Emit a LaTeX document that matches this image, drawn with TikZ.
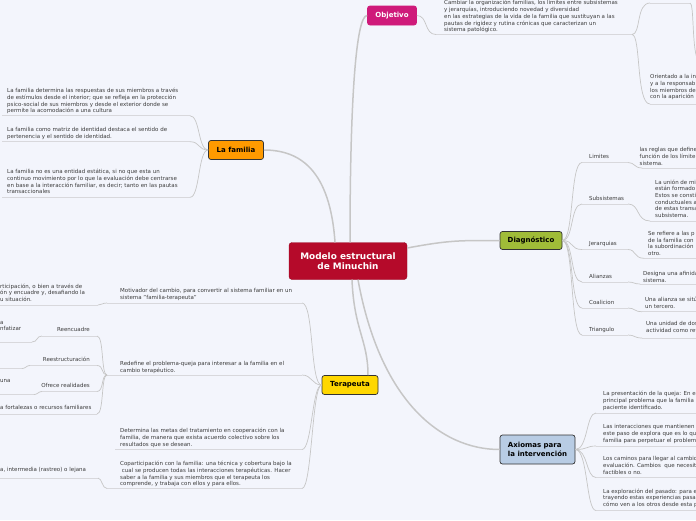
\documentclass[tikz,border=0pt]{standalone}
\usepackage{fontspec}
\setmainfont{DejaVu Sans}
\usetikzlibrary{positioning}

\definecolor{bgcol}{HTML}{F3F5FC}
\definecolor{rootred}{HTML}{B50A2A}
\definecolor{objcol}{HTML}{CF1A7A}
\definecolor{famcol}{HTML}{FF9A00}
\definecolor{diagcol}{HTML}{A0BC38}
\definecolor{tercol}{HTML}{FFD700}
\definecolor{axcol}{HTML}{B8CCE4}
\definecolor{linegray}{HTML}{C6C6C6}
\definecolor{ulgray}{HTML}{D8D8DC}
\definecolor{txtgray}{HTML}{3C3C3C}

\newcommand\txtfont{\fontsize{5.5}{6.7}\selectfont}
\newcommand\topicfont{\fontsize{7}{8.3}\selectfont\bfseries}

\tikzset{
  root/.style={fill=rootred, draw=rootred!85!black, rounded corners=3pt, text=white,
    font=\fontsize{8.9}{10}\selectfont\bfseries, align=center, inner sep=0pt,
    minimum width=118pt, minimum height=37pt},
  topic/.style={rounded corners=2.5pt, draw=black!80, line width=0.7pt, font=\topicfont,
    inner sep=0pt, align=center, text=black},
  txt/.style={anchor=north west, inner sep=0pt, align=left, font=\txtfont, text=txtgray},
  branch/.style={draw=linegray, line width=1.5pt},
  twig/.style={draw=linegray, line width=0.7pt},
  uline/.style={draw=ulgray, line width=0.8pt}
}

\begin{document}
\begin{tikzpicture}[x=1pt,y=-1pt]
\useasboundingbox (0,0) rectangle (696,520);
\fill[bgcol] (0,0) rectangle (696,520);
\begin{scope}
\clip (0,0) rectangle (696,520);

% main topics
\node[root] (model) at (348,261) {Modelo estructural\\de Minuchin};
\node[topic, fill=objcol, draw=objcol, text=white, minimum width=49pt, minimum height=19pt] (obj) at (392,15.5) {Objetivo};
\node[topic, fill=famcol, minimum width=55pt, minimum height=19pt] (fam) at (236,150) {La familia};
\node[topic, fill=diagcol, minimum width=62pt, minimum height=18pt] (diag) at (531,240.5) {Diagnóstico};
\node[topic, fill=tercol, minimum width=56pt, minimum height=19pt] (ter) at (350,385) {Terapeuta};
\node[topic, fill=axcol, align=left, minimum width=75pt, minimum height=29pt] (ax) at (537.5,449.5) {Axiomas para\\la intervención};

\draw[branch] ([xshift=2pt]model.north) .. controls (350,100) and (356,15.5) .. (obj.west);
\draw[branch] ([xshift=-13pt]model.north) .. controls (330,170) and (300,150) .. (fam.east);
\draw[branch] ([yshift=13pt]model.east) .. controls (450,240) and (460,240.5) .. (diag.west);
\draw[branch] ([xshift=4pt]model.south) .. controls (354,330) and (368,340) .. ([xshift=18pt]ter.north);
\draw[branch] ([xshift=10pt]model.south) .. controls (380,400) and (440,449.5) .. (ax.west);

% Objetivo
\node[txt] (obj1) at (444,0.3) {Cambiar la organización familias, los límites entre subsistemas\\y jerarquías, introduciendo novedad y diversidad\\en las estrategias de la vida de la familia que sustituyan a las\\pautas de rigidez y rutina crónicas que caracterizan un\\sistema patológico.};
\draw[uline] (436,34.5) coordinate (o1a) -- (632,34.5) coordinate (o1b);
\draw[twig] (obj.east) .. controls (428,15.5) and (424,34.5) .. (o1a);
\draw[uline] (650,3) coordinate (o2a) -- (690,3) coordinate (o2b);
\draw[twig] (o1b) .. controls (641,34.5) and (636,3) .. (o2a);
\draw[twig] (o2b) .. controls (694,3) and (692,45) .. (697,58);
\node[txt] (obj3) at (650,74.5) {Orientado a la in\\y a la responsab\\los miembros de\\con la aparición};
\draw[uline] (650,104) coordinate (o3a) -- (697,104);
\draw[twig] (o1b) .. controls (641,34.5) and (636,104) .. (o3a);

% La familia
\node[txt] (fam1) at (7,88) {La familia determina las respuestas de sus miembros a través\\de estímulos desde el interior; que se refleja en la protección\\psico-social de sus miembros y desde el exterior donde se\\permite la acomodación a una cultura};
\draw[uline] (2,115.7) -- (190,115.7) coordinate (f1b);
\draw[twig] (fam.west) .. controls (198,150) and (200,115.7) .. (f1b);
\node[txt] (fam2) at (7,127.5) {La familia como matriz de identidad destaca el sentido de\\pertenencia y el sentido de identidad.};
\draw[uline] (2,141.7) -- (190,141.7) coordinate (f2b);
\draw[twig] (fam.west) .. controls (198,150) and (200,141.7) .. (f2b);
\node[txt] (fam3) at (7,169) {La familia no es una entidad estática, si no que esta un\\continuo movimiento por lo que la evaluación debe centrarse\\en base a la interacción familiar, es decir; tanto en las pautas\\transaccionales};
\draw[uline] (2,197.3) -- (190,197.3) coordinate (f3b);
\draw[twig] (fam.west) .. controls (198,150) and (200,197.3) .. (f3b);

% Diagnostico
\foreach \i/\lab/\yu in {1/Limites/162.5, 2/Subsistemas/204, 3/Jerarquias/249.5,
                         4/Alianzas/282, 5/Coalicion/308, 6/Triangulo/335}{
  \node[txt] (dg\i) at (589,\yu-8) {\lab};
  \draw[uline] (582,\yu) coordinate (dg\i a) -- (628,\yu) coordinate (dg\i b);
  \draw[twig] (diag.east) .. controls (574,240.5) and (570,\yu) .. (dg\i a);
}
\node[txt] (dgd1) at (639.5,147.5) {las reglas que define\\función de los límite\\sistema.};
\draw[uline] (642,168) coordinate (dgd1a) -- (697,168);
\draw[twig] (dg1b) .. controls (635,162.5) and (634,168) .. (dgd1a);
\node[txt] (dgd2) at (655,179.5) {La unión de mi\\están formado\\Estos se consti\\conductuales a\\de estas transa\\subsistema.};
\draw[uline] (650,221) coordinate (dgd2a) -- (697,221);
\draw[twig] (dg2b) .. controls (640,204) and (636,221) .. (dgd2a);
\node[txt] (dgd3) at (648,231) {Se refiere a las p\\de la familia con\\la subordinación\\otro.};
\draw[uline] (644,258.3) coordinate (dgd3a) -- (697,258.3);
\draw[twig] (dg3b) .. controls (636,249.5) and (634,258.3) .. (dgd3a);
\node[txt] (dgd4) at (643,271) {Designa una afinida\\sistema.};
\draw[uline] (640,284) coordinate (dgd4a) -- (697,284);
\draw[twig] (dg4b) .. controls (634,282) and (634,284) .. (dgd4a);
\node[txt] (dgd5) at (645,297) {Una alianza se sitú\\un tercero.};
\draw[uline] (642,311.7) coordinate (dgd5a) -- (697,311.7);
\draw[twig] (dg5b) .. controls (635,308) and (634,311.7) .. (dgd5a);
\node[txt] (dgd6) at (646,321) {Una unidad de dos\\actividad como ref};
\draw[uline] (642,338) coordinate (dgd6a) -- (697,338);
\draw[twig] (dg6b) .. controls (635,335) and (634,338) .. (dgd6a);

% Terapeuta
\node[txt] (ter1) at (120,288) {Motivador del cambio, para convertir al sistema familiar en un\\sistema "familia-terapeuta"};
\draw[uline] (107,303) coordinate (t1a) -- (302,303) coordinate (t1b);
\draw[twig] (ter.west) .. controls (310,385) and (314,303) .. (t1b);
\node[txt] (ter1x) at (0,283.5) {rticipación, o bien a través de\\ón y encuadre y, desafiando la\\u situación.};
\draw[uline] (0,305) -- (98,305) coordinate (t1xb);
\draw[twig] (t1a) .. controls (102,303) and (102,305) .. (t1xb);

\node[txt] (ter2) at (120,361) {Redefine el problema-queja para interesar a la familia en el\\cambio terapéutico.};
\draw[uline] (107,375) coordinate (t2a) -- (302,375) coordinate (t2b);
\draw[twig] (ter.west) .. controls (312,385) and (312,375) .. (t2b);
\node[txt, anchor=north east] (reen) at (90,327.5) {Reencuadre};
\draw[uline] (42,336) coordinate (ra) -- (97,336) coordinate (rb);
\draw[twig] (t2a) .. controls (101,375) and (104,336) .. (rb);
\node[txt] (reenx) at (0,321) {a\\nfatizar};
\draw[uline] (0,342) -- (32,342) coordinate (rxb);
\draw[twig] (rxb) .. controls (38,342) and (36,336) .. (ra);
\node[txt, anchor=north east] (rees) at (90,357) {Reestructuración};
\draw[uline] (30,365.5) coordinate (sa) -- (97,365.5) coordinate (sb);
\draw[twig] (t2a) .. controls (101,375) and (104,365.5) .. (sb);
\draw[uline] (0,368.5) -- (22,368.5) coordinate (sxb);
\draw[twig] (sxb) .. controls (26,368.5) and (26,365.5) .. (sa);
\node[txt, anchor=north east] (ofre) at (90,383.5) {Ofrece realidades};
\draw[uline] (42,391.5) coordinate (oa) -- (97,391.5) coordinate (ob);
\draw[twig] (t2a) .. controls (101,375) and (104,391.5) .. (ob);
\node[txt] (ofrex) at (0,379.5) {una};
\draw[uline] (0,394.5) -- (34,394.5) coordinate (oxb);
\draw[twig] (oxb) .. controls (38,394.5) and (38,391.5) .. (oa);
\node[txt] (fort) at (0,405.5) {a fortalezas o recursos familiares};
\draw[uline] (0,414) -- (97,414) coordinate (fb);
\draw[twig] (t2a) .. controls (101,375) and (104,414) .. (fb);

\node[txt] (ter3) at (120,428) {Determina las metas del tratamiento en cooperación con la\\familia, de manera que exista acuerdo colectivo sobre los\\resultados que se desean.};
\draw[uline] (115,449.5) -- (302,449.5) coordinate (t3b);
\draw[twig] (ter.west) .. controls (312,385) and (312,449.5) .. (t3b);

\node[txt] (ter4) at (120,461) {Coparticipación con la familia: una técnica y cobertura bajo la\\\ cual se producen todas las interacciones terapéuticas. Hacer\\saber a la familia y sus miembros que el terapeuta los\\comprende, y trabaja con ellos y para ellos.};
\draw[uline] (107,488.5) coordinate (t4a) -- (302,488.5) coordinate (t4b);
\draw[twig] (ter.west) .. controls (312,385) and (312,488.5) .. (t4b);
\node[txt] (ter4x) at (0,467.5) {a, intermedia (rastreo) o lejana};
\draw[uline] (0,478) -- (98,478) coordinate (t4xb);
\draw[twig] (t4a) .. controls (102,488.5) and (102,478) .. (t4xb);

% Axiomas
\node[txt] (ax1) at (603,391) {La presentación de la queja: En e\\principal problema que la familia\\paciente identificado.};
\draw[uline] (596,413) coordinate (a1a) -- (697,413);
\draw[twig] (ax.east) .. controls (588,449.5) and (586,413) .. (a1a);
\node[txt] (ax2) at (603,424.5) {Las interacciones que mantienen\\este paso de explora que es lo qu\\familia para perpetuar el problem};
\draw[uline] (596,446) coordinate (a2a) -- (697,446);
\draw[twig] (ax.east) .. controls (588,449.5) and (586,446) .. (a2a);
\node[txt] (ax3) at (603,456.5) {Los caminos para llegar al cambio\\evaluación. Cambios\ \ que necesita\\factibles o no.};
\draw[uline] (596,477.5) coordinate (a3a) -- (697,477.5);
\draw[twig] (ax.east) .. controls (588,449.5) and (586,477.5) .. (a3a);
\node[txt] (ax4) at (603,488.5) {La exploración del pasado: para e\\trayendo estas experiencias pasad\\cómo ven a los otros desde esta p};
\draw[uline] (596,510.5) coordinate (a4a) -- (697,510.5);
\draw[twig] (ax.east) .. controls (588,449.5) and (586,510.5) .. (a4a);
\end{scope}
\end{tikzpicture}
\end{document}
